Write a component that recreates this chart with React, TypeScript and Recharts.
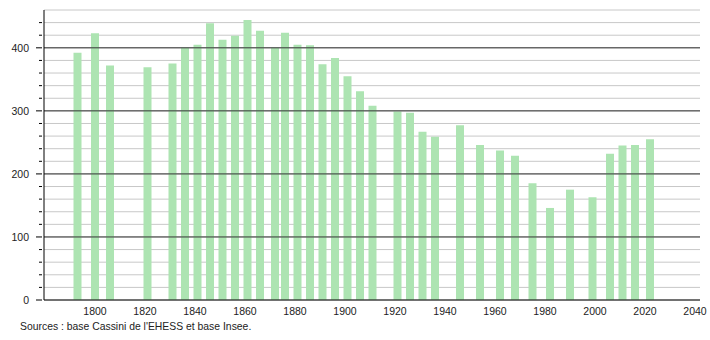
import { Bar, BarChart, CartesianGrid, ReferenceLine, XAxis, YAxis } from 'recharts';

const YEARS = [
  1793, 1800, 1806, 1821, 1831, 1836, 1841, 1846, 1851, 1856, 1861, 1866, 1872, 1876, 1881,
  1886, 1891, 1896, 1901, 1906, 1911, 1921, 1926, 1931, 1936, 1946, 1954, 1962, 1968, 1975,
  1982, 1990, 1999, 2006, 2011, 2016, 2022,
];
const POPULATION = [
  392, 423, 372, 369, 375, 400, 405, 439, 413, 419, 444, 427, 400, 424, 405, 404, 374, 384,
  355, 331, 308, 299, 297, 267, 259, 277, 246, 237, 229, 185, 146, 175, 163, 232, 245, 246,
  255,
];
const X_TICKS = [1800, 1820, 1840, 1860, 1880, 1900, 1920, 1940, 1960, 1980, 2000, 2020, 2040];
const Y_TICKS = [0, 20, 40, 60, 80, 100, 120, 140, 160, 180, 200, 220, 240, 260, 280, 300, 320, 340, 360, 380, 400, 420, 440, 460];
const Y_MAJOR = [100, 200, 300, 400];

const BAR = '#ade4b2';
const FONT = '"Liberation Sans", Arial, sans-serif';

const data = YEARS.map((year, i) => ({ year, pop: POPULATION[i] }));

function YTick(props: any) {
  const { x, y, payload } = props;
  const v = payload.value;
  const major = v % 100 === 0;
  if (v === 460) return null;
  return (
    <g>
      <line x1={x + (major ? 0 : 3)} x2={x + 6} y1={y} y2={y} stroke="#000" strokeWidth={1} />
      {major && (
        <text x={x - 7} y={y} dy={4} textAnchor="end" fontSize={10.5} fill="#222" fontFamily={FONT}>
          {v}
        </text>
      )}
    </g>
  );
}

export default function App() {
  return (
    <div style={{ position: 'absolute', left: 0, top: 0, width: 710, height: 340, background: '#fff' }}>
      <BarChart
        width={710}
        height={340}
        data={data}
        margin={{ top: 10, right: 10, bottom: 20, left: 0 }}
      >
        <CartesianGrid horizontal vertical={false} stroke="#c8c8c8" />
        <XAxis
          dataKey="year"
          type="number"
          domain={[1779.6, 2042]}
          ticks={X_TICKS}
          allowDataOverflow
          tickLine={false}
          axisLine={{ stroke: '#000' }}
          height={20}
          tick={{ fontSize: 10.5, fill: '#222', fontFamily: FONT }}
        />
        <YAxis
          type="number"
          domain={[0, 460]}
          ticks={Y_TICKS}
          interval={0}
          width={44}
          tickLine={false}
          axisLine={{ stroke: '#000' }}
          tick={<YTick />}
        />
        {Y_MAJOR.map((v) => (
          <ReferenceLine key={v} y={v} stroke="#333" strokeWidth={1} />
        ))}
        <Bar dataKey="pop" fill={BAR} barSize={8} isAnimationActive={false} />
      </BarChart>
      <div
        style={{
          position: 'absolute',
          left: 20,
          top: 321,
          fontFamily: FONT,
          fontSize: 10.4,
          color: '#222',
        }}
      >
        Sources : base Cassini de l'EHESS et base Insee.
      </div>
    </div>
  );
}
